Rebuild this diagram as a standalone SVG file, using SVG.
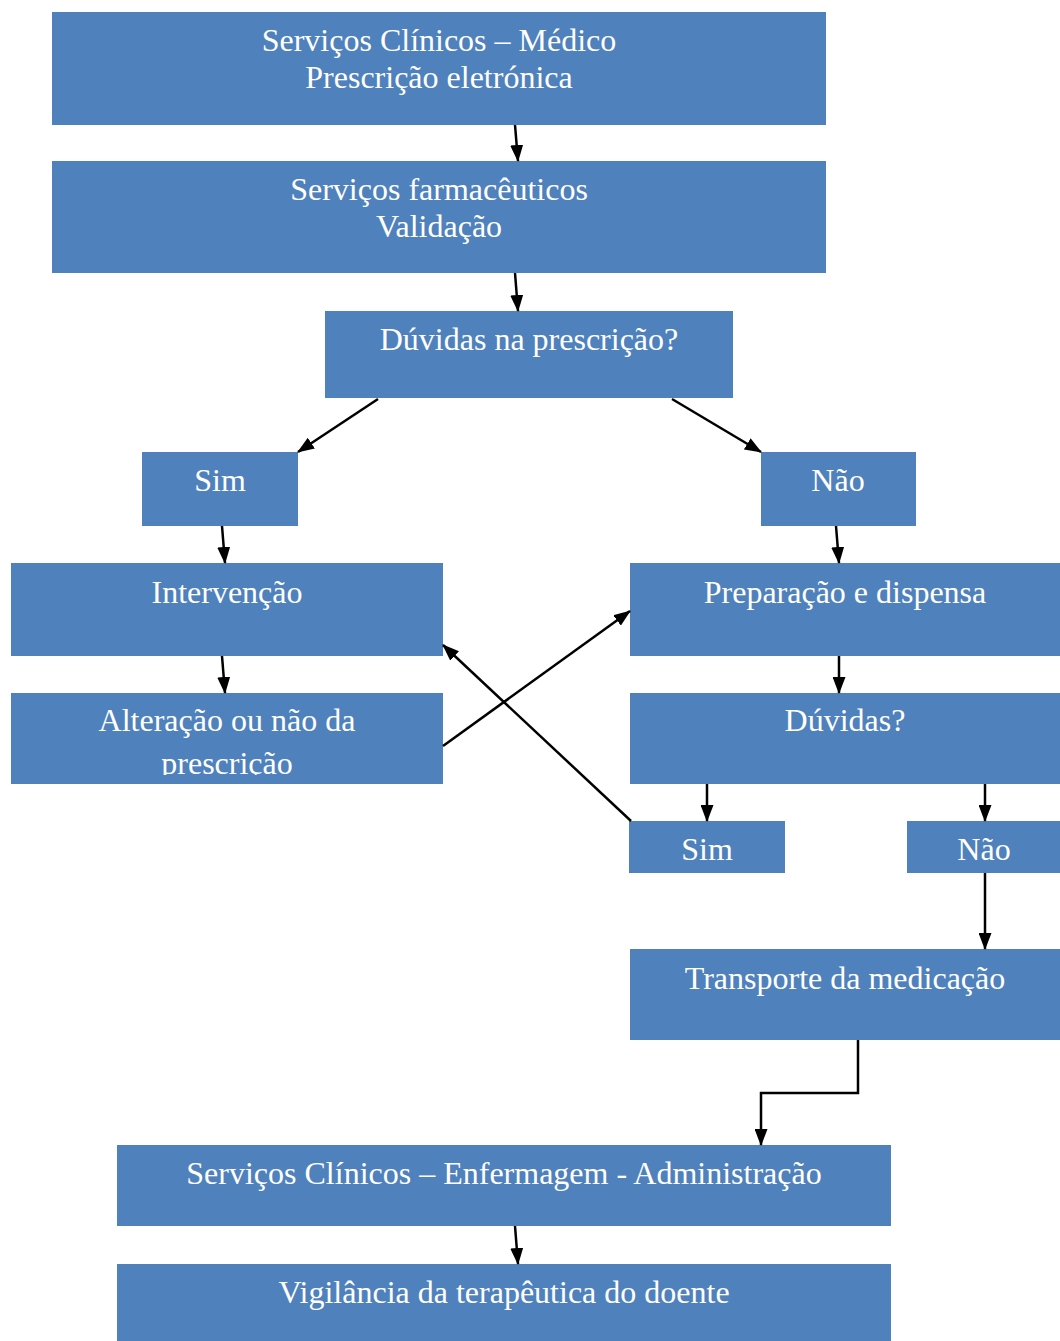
<svg xmlns="http://www.w3.org/2000/svg" width="1060" height="1341" viewBox="0 0 1060 1341">
<style>
.b{fill:#4F81BD}
.t{fill:#fff;font-family:"Liberation Serif","Times New Roman",serif;font-size:32px;text-anchor:middle}
.c{stroke:#000;stroke-width:2.5;fill:none;marker-end:url(#ah)}
</style>
<defs>
<marker id="ah" markerWidth="17" markerHeight="13" refX="16" refY="6.5" orient="auto" markerUnits="userSpaceOnUse">
<path d="M0,0 L17,6.5 L0,13 Z" fill="#000"/>
</marker>
<clipPath id="clipAlt"><rect x="11" y="693" width="432" height="82"/></clipPath>
</defs>
<rect width="1060" height="1341" fill="#fff"/>
<g id="n1"><rect class="b" x="52" y="12" width="774" height="113"/><text class="t" x="439" y="51">Serviços Clínicos – Médico</text><text class="t" x="439" y="88">Prescrição eletrónica</text></g>
<g id="n2"><rect class="b" x="52" y="161" width="774" height="112"/><text class="t" x="439" y="200">Serviços farmacêuticos</text><text class="t" x="439" y="237">Validação</text></g>
<g id="n3"><rect class="b" x="325" y="311" width="408" height="87"/><text class="t" x="529" y="350">Dúvidas na prescrição?</text></g>
<g id="n4"><rect class="b" x="142" y="452" width="156" height="74"/><text class="t" x="220" y="491">Sim</text></g>
<g id="n5"><rect class="b" x="761" y="452" width="155" height="74"/><text class="t" x="838" y="491">Não</text></g>
<g id="n6"><rect class="b" x="11" y="563" width="432" height="93"/><text class="t" x="227" y="603">Intervenção</text></g>
<g id="n7"><rect class="b" x="630" y="563" width="430" height="93"/><text class="t" x="845" y="603">Preparação e dispensa</text></g>
<g id="n8"><rect class="b" x="11" y="693" width="432" height="91"/><g clip-path="url(#clipAlt)"><text class="t" x="227" y="731">Alteração ou não da</text><text class="t" x="227" y="774">prescrição</text></g></g>
<g id="n9"><rect class="b" x="630" y="693" width="430" height="91"/><text class="t" x="845" y="731">Dúvidas?</text></g>
<g id="n10"><rect class="b" x="629" y="821" width="156" height="52"/><text class="t" x="707" y="860">Sim</text></g>
<g id="n11"><rect class="b" x="907" y="821" width="153" height="52"/><text class="t" x="984" y="860">Não</text></g>
<g id="n12"><rect class="b" x="630" y="949" width="430" height="91"/><text class="t" x="845" y="989">Transporte da medicação</text></g>
<g id="n13"><rect class="b" x="117" y="1145" width="774" height="81"/><text class="t" x="504" y="1184">Serviços Clínicos – Enfermagem - Administração</text></g>
<g id="n14"><rect class="b" x="117" y="1264" width="774" height="77"/><text class="t" x="504" y="1303">Vigilância da terapêutica do doente</text></g>
<g id="connectors">
<path class="c" d="M515,125 L518,161"/>
<path class="c" d="M515,273 L518,311"/>
<path class="c" d="M378,399 L298,452"/>
<path class="c" d="M672,399 L761,452"/>
<path class="c" d="M222,526 L225,563"/>
<path class="c" d="M836,526 L839,563"/>
<path class="c" d="M222,656 L225,693"/>
<path class="c" d="M839,656 L839,693"/>
<path class="c" d="M443,746 L630,611"/>
<path class="c" d="M631,821 L443,645"/>
<path class="c" d="M707,784 L707,821"/>
<path class="c" d="M985,784 L985,821"/>
<path class="c" d="M985,873 L985,949"/>
<path class="c" d="M858,1040 L858,1093 L761,1093 L761,1145"/>
<path class="c" d="M515,1226 L518,1264"/>
</g>
</svg>
